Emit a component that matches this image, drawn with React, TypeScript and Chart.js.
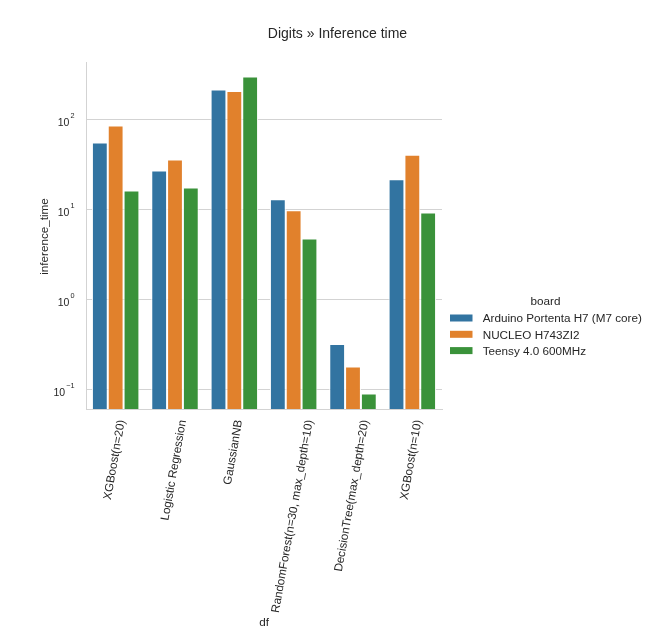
import React, { useEffect, useRef } from "react";
import { Chart, registerables } from "chart.js";

Chart.register(...registerables);

const categories = [
  "XGBoost(n=20)",
  "Logistic Regression",
  "GaussianNB",
  "RandomForest(n=30, max_depth=10)",
  "DecisionTree(max_depth=20)",
  "XGBoost(n=10)",
];
const boards = ["Arduino Portenta H7 (M7 core)", "NUCLEO H743ZI2", "Teensy 4.0 600MHz"];
const portentaTimes = [55, 27, 214, 12.9, 0.316, 21.5];
const nucleoTimes = [85, 35.6, 206, 9.75, 0.178, 40.4];
const teensyTimes = [16.1, 17.4, 298, 4.72, 0.089, 9.17];
const yTickExponents = [-1, 0, 1, 2];
const chartTitle = "Digits \u00bb Inference time";
const xTitle = "df";
const yTitle = "inference_time";
const legendTitle = "board";

const colors = ["#3274a1", "#e1812c", "#3a923a"];
const TEXT = "#262626";
const GRID = "#d3d3d3";
const FONT = "'Liberation Sans', Arial, sans-serif";

const labelsPlugin = {
  id: "seabornText",
  afterDraw(chart: any) {
    const ctx = chart.ctx as CanvasRenderingContext2D;
    const xs = chart.scales.x;
    const ys = chart.scales.y;
    const area = chart.chartArea;
    ctx.save();
    ctx.fillStyle = TEXT;

    // title
    ctx.font = `14px ${FONT}`;
    ctx.textAlign = "center";
    ctx.textBaseline = "alphabetic";
    ctx.fillText(chartTitle, 337.5, 37.5);

    // y tick labels 10^e
    yTickExponents.forEach((e) => {
      const y = ys.getPixelForValue(Math.pow(10, e));
      const exp = e < 0 ? "\u2212" + Math.abs(e) : String(e);
      const right = area.left - 11.5;
      ctx.textAlign = "left";
      ctx.font = `7.3px ${FONT}`;
      const ew = ctx.measureText(exp).width;
      ctx.fillText(exp, right - ew, y - 1.3);
      ctx.font = `10.5px ${FONT}`;
      const bw = ctx.measureText("10").width;
      ctx.fillText("10", right - ew - 1 - bw, y + 6.7);
    });

    // x tick labels rotated 80deg, bbox centered on tick
    ctx.font = `11.7px ${FONT}`;
    const theta = (80 * Math.PI) / 180;
    categories.forEach((lab, i) => {
      const x = xs.getPixelForTick(i) - 1;
      const W = ctx.measureText(lab).width;
      const H = 11.7;
      const bh = W * Math.sin(theta) + H * Math.cos(theta);
      const top = area.bottom + 10;
      ctx.save();
      ctx.translate(x, top + bh / 2);
      ctx.rotate(-theta);
      ctx.textAlign = "center";
      ctx.textBaseline = "middle";
      ctx.fillText(lab, 0, 0);
      ctx.restore();
    });

    // axis titles
    ctx.font = `11.7px ${FONT}`;
    ctx.textAlign = "center";
    ctx.textBaseline = "alphabetic";
    ctx.fillText(xTitle, (area.left + area.right) / 2, 626);
    ctx.save();
    ctx.translate(47.5, (area.top + area.bottom) / 2 + 1);
    ctx.rotate(-Math.PI / 2);
    ctx.fillText(yTitle, 0, 0);
    ctx.restore();

    // legend
    ctx.fillText(legendTitle, 545.5, 305);
    ctx.textAlign = "left";
    chart.data.datasets.forEach((ds: any, i: number) => {
      const rowY = 318 + 16.3 * i;
      ctx.fillStyle = ds.backgroundColor;
      ctx.fillRect(450, rowY - 3.5, 22.5, 7);
      ctx.fillStyle = TEXT;
      ctx.fillText(ds.label, 482.7, rowY + 4.2);
    });

    ctx.restore();
  },
};

export default function App() {
  const ref = useRef<HTMLCanvasElement | null>(null);

  useEffect(() => {
    if (!ref.current) return;
    const series = [portentaTimes, nucleoTimes, teensyTimes];
    const chart = new Chart(ref.current, {
      type: "bar",
      data: {
        labels: categories,
        datasets: boards.map((b, i) => ({
          label: b,
          data: series[i],
          backgroundColor: colors[i],
          borderColor: "#ffffff",
          borderWidth: 1,
          categoryPercentage: 0.8,
          barPercentage: 1.0,
        })),
      },
      options: {
        responsive: false,
        animation: false,
        devicePixelRatio: 1,
        layout: { padding: { left: 0, top: 62, right: 207, bottom: 0 } },
        plugins: {
          legend: { display: false },
          title: { display: false },
          tooltip: { enabled: false },
        },
        scales: {
          x: {
            type: "category",
            grid: { display: false, drawTicks: false },
            border: { display: true, color: GRID, width: 1 },
            ticks: { display: false },
            afterFit: (scale: any) => {
              scale.height = 232;
            },
          },
          y: {
            type: "logarithmic",
            min: 0.06,
            max: 433,
            grid: { display: true, color: GRID, lineWidth: 1, drawTicks: false },
            border: { display: true, color: GRID, width: 1 },
            ticks: { display: false },
            afterBuildTicks: (scale: any) => {
              scale.ticks = yTickExponents.map((e) => ({ value: Math.pow(10, e) }));
            },
            afterFit: (scale: any) => {
              scale.width = 86;
            },
          },
        },
      },
      plugins: [labelsPlugin],
    } as any);
    return () => chart.destroy();
  }, []);

  return (
    <div style={{ position: "absolute", left: 0, top: 0, width: 649, height: 641, background: "#ffffff" }}>
      <canvas ref={ref} width={649} height={641} style={{ display: "block" }} />
    </div>
  );
}
